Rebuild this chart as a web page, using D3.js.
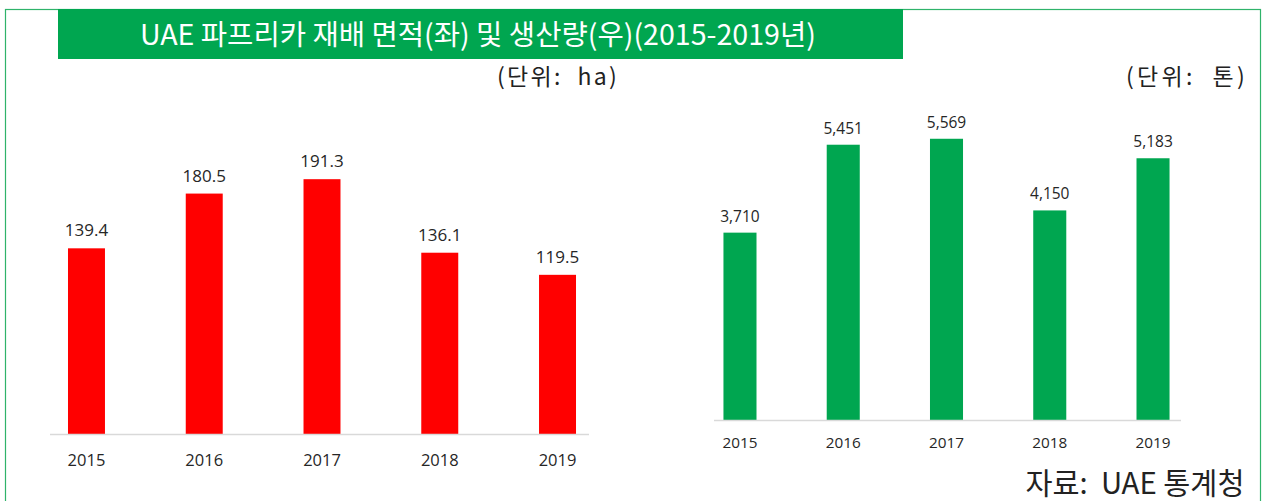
<!DOCTYPE html>
<html>
<head>
<meta charset="utf-8">
<script src="https://cdn.jsdelivr.net/npm/d3@7"></script>
<style>
  body { margin: 0; background: #fff; }
  svg { display: block; }
  .pre { white-space: pre; }
</style>
</head>
<body>
<svg width="1263" height="501"></svg>
<script>
let years = ['2015', '2016', '2017', '2018', '2019'];
let areaHa = [139.4, 180.5, 191.3, 136.1, 119.5];
let outputTon = [3710, 5451, 5569, 4150, 5183];

let title = 'UAE 파프리카 재배 면적(좌) 및 생산량(우)(2015-2019년)';
let unitLeft = '(단위:  ha)';
let unitRight = '(단위:  톤)';
let source = '자료:  UAE 통계청';

let svg = d3.select('svg');
let korean = '"Noto Sans CJK KR", "Noto Sans", sans-serif';
let latin = '"Open Sans", "Noto Sans", sans-serif';

// scale the font so the text reaches the width measured on the reference
function fit(sel, w) {
  let len = sel.node().getComputedTextLength();
  let fs = parseFloat(sel.style('font-size'));
  sel.style('font-size', (fs * w / len) + 'px');
  return sel;
}

// keep the font size, open up the letters instead
function spread(sel, w) {
  let len = sel.node().getComputedTextLength();
  let n = sel.text().length;
  sel.style('letter-spacing', Math.max(0, (w - len) / n) + 'px');
  return sel;
}

// frame + title bar
svg.append('rect')
    .attr('x', 5.5).attr('y', 9.5)
    .attr('width', 1255).attr('height', 500)
    .attr('fill', 'none')
    .attr('stroke', '#2fb36a')
    .attr('stroke-width', 1.2);

svg.append('rect')
    .attr('x', 58).attr('y', 9)
    .attr('width', 845).attr('height', 50)
    .attr('fill', '#00a650');

fit(svg.append('text')
    .attr('x', 478).attr('y', 35)
    .attr('dy', '.35em')
    .attr('text-anchor', 'middle')
    .attr('fill', '#fff')
    .style('font-family', korean)
    .style('font-size', '22px')
    .text(title), 676);

spread(svg.append('text')
    .attr('class', 'pre')
    .attr('x', 497).attr('y', 77)
    .attr('dy', '.35em')
    .attr('fill', '#222')
    .style('font-family', korean)
    .style('font-size', '23px')
    .text(unitLeft), 122);

spread(svg.append('text')
    .attr('class', 'pre')
    .attr('x', 1126).attr('y', 77)
    .attr('dy', '.35em')
    .attr('fill', '#222')
    .style('font-family', korean)
    .style('font-size', '23px')
    .text(unitRight), 122);

fit(svg.append('text')
    .attr('class', 'pre')
    .attr('x', 1135).attr('y', 484)
    .attr('dy', '.35em')
    .attr('text-anchor', 'middle')
    .attr('fill', '#222')
    .style('font-family', korean)
    .style('font-size', '22px')
    .text(source), 219);

function barChart(opts) {
  let x = d3.scaleBand()
      .domain(years)
      .range(opts.xRange)
      .paddingInner(opts.pad)
      .paddingOuter(opts.pad / 2);

  let y = d3.scaleLinear()
      .domain(opts.yDomain)
      .range(opts.yRange);

  let g = svg.append('g');

  g.selectAll('rect.bar')
      .data(opts.values)
    .enter().append('rect')
      .attr('class', 'bar')
      .attr('x', (d, i) => x(years[i]))
      .attr('y', (d) => y(d))
      .attr('width', x.bandwidth())
      .attr('height', (d) => y(0) - y(d))
      .attr('fill', opts.color);

  g.selectAll('text.val')
      .data(opts.values)
    .enter().append('text')
      .attr('class', 'val')
      .attr('x', (d, i) => x(years[i]) + x.bandwidth() / 2)
      .attr('y', (d) => y(d) - opts.labelGap)
      .attr('text-anchor', 'middle')
      .attr('fill', '#262626')
      .style('font-family', latin)
      .style('font-size', opts.valSize)
      .text((d) => opts.fmt(d));

  // baseline
  g.append('line')
      .attr('x1', opts.axisX[0]).attr('x2', opts.axisX[1])
      .attr('y1', y(0) + 0.5).attr('y2', y(0) + 0.5)
      .attr('stroke', '#d9d9d9')
      .attr('stroke-width', 1.5);

  let axis = d3.axisBottom(x).tickSize(0).tickPadding(opts.tickPad);
  g.append('g')
      .attr('transform', `translate(0, ${y(0)})`)
      .call(axis)
      .call((s) => s.select('.domain').remove())
      .selectAll('text')
      .attr('fill', '#262626')
      .style('font-family', latin)
      .style('font-size', opts.yearSize);
}

barChart({
  values: areaHa,
  color: '#ff0000',
  xRange: [27.6, 616.4],
  pad: 0.686,
  yDomain: [0, 250],
  yRange: [434, 101],
  axisX: [50, 589],
  labelGap: 12,
  tickPad: 20,
  valSize: '17px',
  yearSize: '16.5px',
  fmt: d3.format('.1f')
});

barChart({
  values: outputTon,
  color: '#00a650',
  xRange: [688.35, 1204.65],
  pad: 0.68,
  yDomain: [0, 6000],
  yRange: [420, 117],
  axisX: [714, 1181],
  labelGap: 11,
  tickPad: 17,
  valSize: '15.5px',
  yearSize: '15.3px',
  fmt: d3.format(',')
});
</script>
</body>
</html>
